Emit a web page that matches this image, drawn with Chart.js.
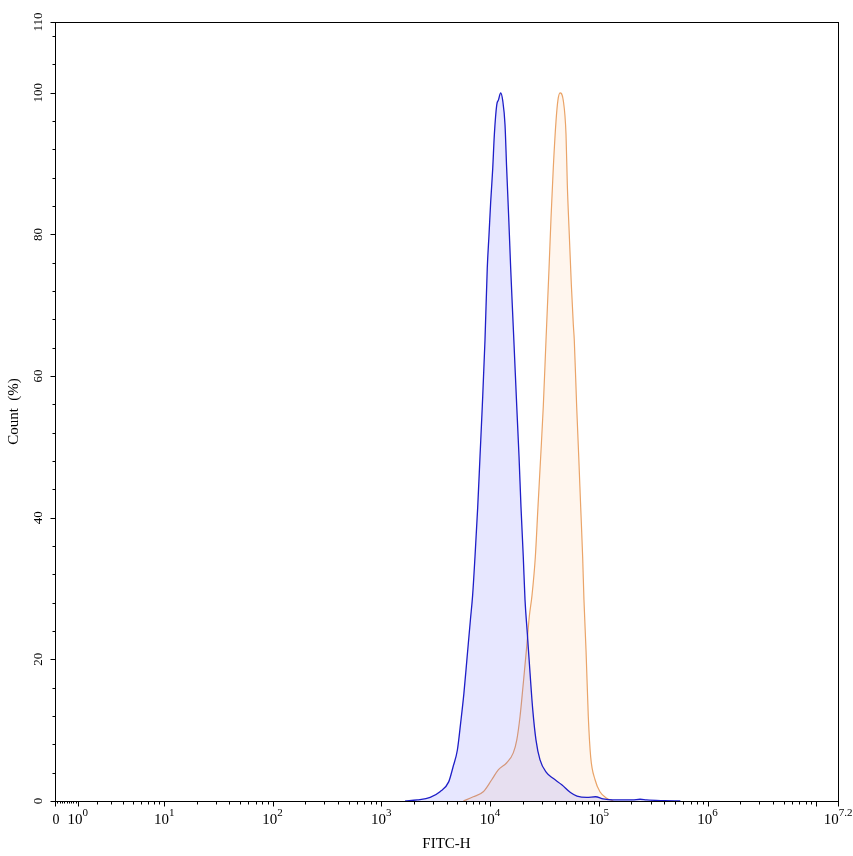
<!DOCTYPE html>
<html lang="en">
<head>
<meta charset="UTF-8">
<title>FITC-H histogram</title>
<script src="https://cdn.jsdelivr.net/npm/chart.js"></script>
<style>
  body { margin: 0; background: #fff; }
  #wrap { width: 853px; height: 856px; }
</style>
</head>
<body>
<div id="wrap"><canvas id="histChart" width="853" height="856"></canvas></div>
<script>
// FITC-H position (log10 of intensity) and count (% of mode)
const blueLog = [3.22, 3.33, 3.45, 3.54, 3.62, 3.66, 3.70, 3.73, 3.76, 3.79, 3.82, 3.84, 3.862, 3.887, 3.908, 3.929,
  3.954, 3.975, 3.991, 4.006, 4.025, 4.04, 4.062, 4.078, 4.098, 4.117, 4.138, 4.153, 4.172, 4.19, 4.205, 4.221,
  4.246, 4.267, 4.285, 4.306, 4.322, 4.343, 4.368, 4.393, 4.423, 4.46, 4.52, 4.58, 4.66, 4.74, 4.80, 4.89, 4.97,
  5.04, 5.13, 5.31, 5.38, 5.44, 5.6, 5.75];
const blueCount = [0, 0.15, 0.5, 1.3, 2.7, 4.8, 7.2, 11.0, 15.2, 20.4, 25.6, 29.0, 34.5, 41.5, 48.6, 55.7,
  65.1, 75.3, 80.0, 84.5, 89.3, 94.1, 98.3, 99.0, 100, 98.9, 95.5, 89.4, 82.4, 75.3, 70.0, 64.5,
  55.7, 48.6, 41.5, 34.5, 28.4, 23.7, 18.1, 12.9, 8.6, 5.8, 4.0, 3.2, 2.3, 1.2, 0.7, 0.5, 0.6,
  0.3, 0.15, 0.15, 0.25, 0.15, 0.05, 0];

const orangeLog = [3.755, 3.846, 3.938, 4.016, 4.076, 4.154, 4.214, 4.246, 4.276, 4.306, 4.337, 4.361, 4.386,
  4.417, 4.441, 4.466, 4.49, 4.515, 4.543, 4.561, 4.582, 4.607, 4.625, 4.644, 4.674, 4.699, 4.711, 4.729,
  4.748, 4.766, 4.775, 4.797, 4.816, 4.834, 4.852, 4.864, 4.883, 4.904, 4.926, 4.966, 5.011, 5.073, 5.134];
const orangeCount = [0, 0.6, 1.3, 3.0, 4.4, 5.4, 6.8, 8.6, 11.9, 16.6, 21.7, 26.0, 29.0,
  34.5, 41.5, 48.6, 55.7, 65.1, 75.3, 82.3, 89.4, 96.0, 99.0, 100, 98.9, 94.1, 87.0, 80.0,
  72.9, 67.3, 65.1, 55.7, 48.6, 41.5, 34.5, 28.4, 21.3, 11.9, 6.2, 3.0, 1.3, 0.4, 0];

// axis ticks
const yTicks = [0, 20, 40, 60, 80, 100, 110];
const xDecades = [0, 1, 2, 3, 4, 5, 6, 7];      // major tick marks at 10^n
const xLabelExps = ['0', '1', '2', '3', '4', '5', '6', '7.2'];  // labels 10^n, plus a plain "0"
const xMax = 7.2;

// biexponential style display: ~log10 for large values, linear near zero
function toAxis(v) { return Math.asinh(v / 2) / Math.LN10; }

function toPoints(logs, counts) {
  return logs.map((e, i) => ({ x: toAxis(Math.pow(10, e)), y: counts[i] }));
}

const serif = '"Liberation Serif", "Times New Roman", serif';

const axesPlugin = {
  id: 'axesPlugin',
  afterDraw(chart) {
    const ctx = chart.ctx;
    const xs = chart.scales.x, ys = chart.scales.y;
    const a = chart.chartArea;
    ctx.save();
    ctx.strokeStyle = '#000';
    ctx.lineWidth = 1;
    ctx.strokeRect(Math.round(a.left) + 0.5, Math.round(a.top) + 0.5,
      Math.round(a.right - a.left), Math.round(a.bottom - a.top));

    const bottom = Math.round(a.bottom) + 0.5;
    const left = Math.round(a.left) + 0.5;

    function xTick(px, len) {
      const p = Math.round(px) + 0.5;
      ctx.beginPath(); ctx.moveTo(p, bottom); ctx.lineTo(p, bottom + len); ctx.stroke();
    }
    function yTick(py, len) {
      const p = Math.round(py) + 0.5;
      ctx.beginPath(); ctx.moveTo(left, p); ctx.lineTo(left - len, p); ctx.stroke();
    }

    // x ticks
    xTick(xs.getPixelForValue(0), 5);
    for (let i = 1; i < 10; i++) xTick(xs.getPixelForValue(toAxis(i / 10)), 2);
    xDecades.forEach(d => {
      xTick(xs.getPixelForValue(toAxis(Math.pow(10, d))), 5);
      for (let m = 2; m < 10; m++) {
        const u = toAxis(m * Math.pow(10, d));
        if (u < xMax) xTick(xs.getPixelForValue(u), 3);
      }
    });
    xTick(xs.getPixelForValue(xMax), 5);

    // x labels
    ctx.fillStyle = '#000';
    ctx.textBaseline = 'alphabetic';
    ctx.textAlign = 'left';
    const labelY = 824;
    ctx.font = '14px ' + serif;
    const wz = ctx.measureText('0').width;
    ctx.fillText('0', xs.getPixelForValue(0) - wz / 2 + 1, labelY);
    ['0'].concat(xLabelExps.slice(1)).forEach(lbl => {
      const u = lbl === '7.2' ? xMax : toAxis(Math.pow(10, parseFloat(lbl)));
      const px = xs.getPixelForValue(u);
      ctx.font = '15px ' + serif;
      const wb = ctx.measureText('10').width;
      ctx.font = '11px ' + serif;
      const we = ctx.measureText(lbl).width;
      const start = px - (wb + we) / 2;
      ctx.font = '15px ' + serif;
      ctx.fillText('10', start, labelY);
      ctx.font = '11px ' + serif;
      ctx.fillText(lbl, start + wb, labelY - 8);
    });

    // y ticks
    for (let v = 0; v <= 110; v += 4) {
      if (v % 20 !== 0) yTick(ys.getPixelForValue(v), 3);
    }
    yTicks.forEach(v => yTick(ys.getPixelForValue(v), 5));

    // y labels rotated
    ctx.font = '13px ' + serif;
    ctx.textAlign = 'center';
    yTicks.forEach(v => {
      ctx.save();
      ctx.translate(42, ys.getPixelForValue(v));
      ctx.rotate(-Math.PI / 2);
      ctx.fillText(String(v), 0, 0);
      ctx.restore();
    });

    // axis titles
    ctx.font = '15px ' + serif;
    ctx.fillText('FITC-H', (a.left + a.right) / 2, 848);
    ctx.save();
    ctx.translate(18, (a.top + a.bottom) / 2);
    ctx.rotate(-Math.PI / 2);
    ctx.fillText('Count  (%)', 0, 0);
    ctx.restore();
    ctx.restore();
  }
};

const chart = new Chart(document.getElementById('histChart'), {
  type: 'line',
  data: {
    datasets: [
      {
        label: 'Control',
        data: toPoints(blueLog, blueCount),
        borderColor: '#1e1ec8',
        backgroundColor: 'rgba(60, 60, 255, 0.12)',
        borderWidth: 1.3,
        fill: 'origin',
        pointRadius: 0,
        cubicInterpolationMode: 'monotone'
      },
      {
        label: 'Sample',
        data: toPoints(orangeLog, orangeCount),
        borderColor: '#eaa468',
        backgroundColor: 'rgba(250, 160, 70, 0.09)',
        borderWidth: 1.2,
        fill: 'origin',
        pointRadius: 0,
        cubicInterpolationMode: 'monotone'
      }
    ]
  },
  options: {
    responsive: false,
    animation: false,
    layout: { padding: { left: 55, right: 15, top: 22, bottom: 55 } },
    plugins: { legend: { display: false }, tooltip: { enabled: false } },
    scales: {
      x: { type: 'linear', min: 0, max: xMax, display: false },
      y: { type: 'linear', min: 0, max: 110, display: false }
    }
  },
  plugins: [axesPlugin]
});
</script>
</body>
</html>
